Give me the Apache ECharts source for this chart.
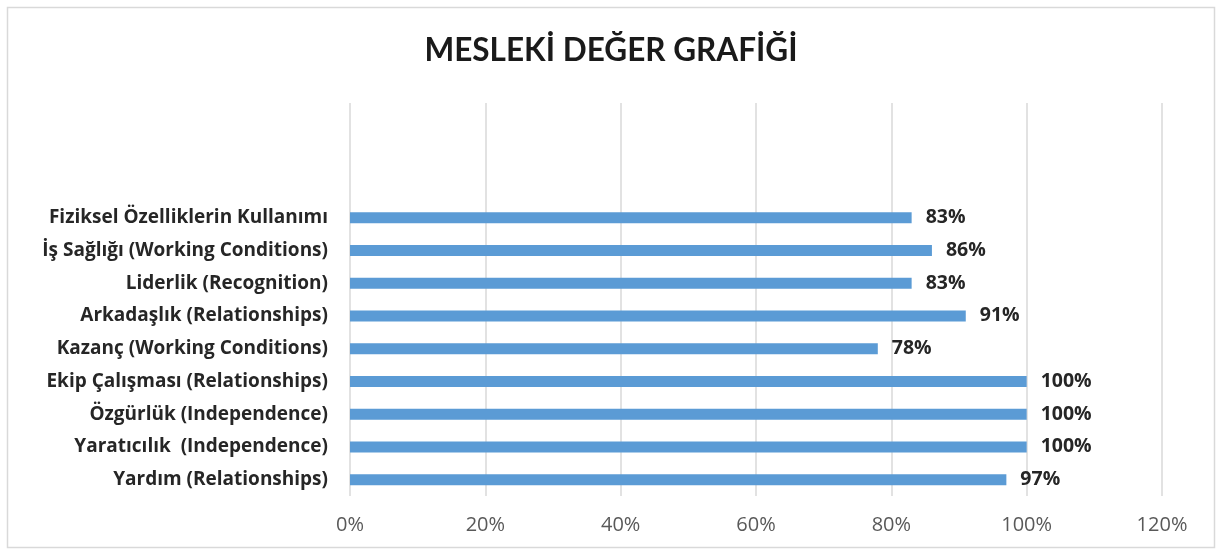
<!DOCTYPE html>
<html>
<head>
<meta charset="utf-8">
<script src="https://cdn.jsdelivr.net/npm/echarts@6/dist/echarts.min.js"></script>
<style>
  html, body { margin: 0; padding: 0; background: #fff; }
  #chart { width: 1222px; height: 554px; }
</style>
</head>
<body>
<div id="chart"></div>
<script>
// Occupational value scores (%), listed top to bottom
const categories = [
  'Fiziksel Özelliklerin Kullanımı',
  'İş Sağlığı (Working Conditions)',
  'Liderlik (Recognition)',
  'Arkadaşlık (Relationships)',
  'Kazanç (Working Conditions)',
  'Ekip Çalışması (Relationships)',
  'Özgürlük (Independence)',
  'Yaratıcılık  (Independence)',
  'Yardım (Relationships)'
];
const values = [83, 86, 83, 91, 78, 100, 100, 100, 97];
const xTicks = [0, 20, 40, 60, 80, 100, 120];

// empty rows kept above the bars
const blankRows = 3;
const axisCats = Array(blankRows).fill('').concat(categories);
const axisVals = Array(blankRows).fill('-').concat(values);

const chart = echarts.init(document.getElementById('chart'));
const titleFont = 'Lato, "Open Sans", sans-serif';
const font = '"Open Sans", Lato, sans-serif';

chart.setOption({
  animation: false,
  backgroundColor: '#ffffff',
  textStyle: { fontFamily: font },
  graphic: [{
    type: 'rect',
    shape: { x: 7.5, y: 7.5, width: 1207, height: 540 },
    style: { fill: 'none', stroke: '#d9d9d9', lineWidth: 1.5 },
    silent: true
  }],
  title: {
    text: 'MESLEKİ DEĞER GRAFİĞİ',
    left: 'center',
    top: 30,
    textStyle: { fontFamily: titleFont, fontSize: 31.5, fontWeight: 'bold', color: '#1a1a1a' }
  },
  grid: { left: 350, right: 60, top: 103, bottom: 58, containLabel: false },
  xAxis: {
    type: 'value',
    min: xTicks[0],
    max: xTicks[xTicks.length - 1],
    interval: xTicks[1] - xTicks[0],
    axisLine: { show: false },
    axisTick: { show: false },
    splitLine: { show: true, lineStyle: { color: '#d9d9d9', width: 1.5 } },
    axisLabel: {
      formatter: '{value}%',
      color: '#595959',
      fontSize: 20,
      margin: 19,
      fontFamily: font
    }
  },
  yAxis: {
    type: 'category',
    data: axisCats,
    inverse: true,
    axisLine: { show: false },
    axisTick: { show: false },
    axisLabel: {
      color: '#262626',
      fontSize: 19,
      fontWeight: 'bold',
      margin: 22,
      fontFamily: font
    }
  },
  series: [{
    type: 'bar',
    data: axisVals,
    barWidth: 11,
    itemStyle: { color: '#5b9bd5' },
    label: {
      show: true,
      position: 'right',
      distance: 14,
      formatter: p => p.value + '%',
      color: '#262626',
      fontSize: 19.5,
      fontWeight: 'bold',
      fontFamily: font
    }
  }]
});
</script>
</body>
</html>
